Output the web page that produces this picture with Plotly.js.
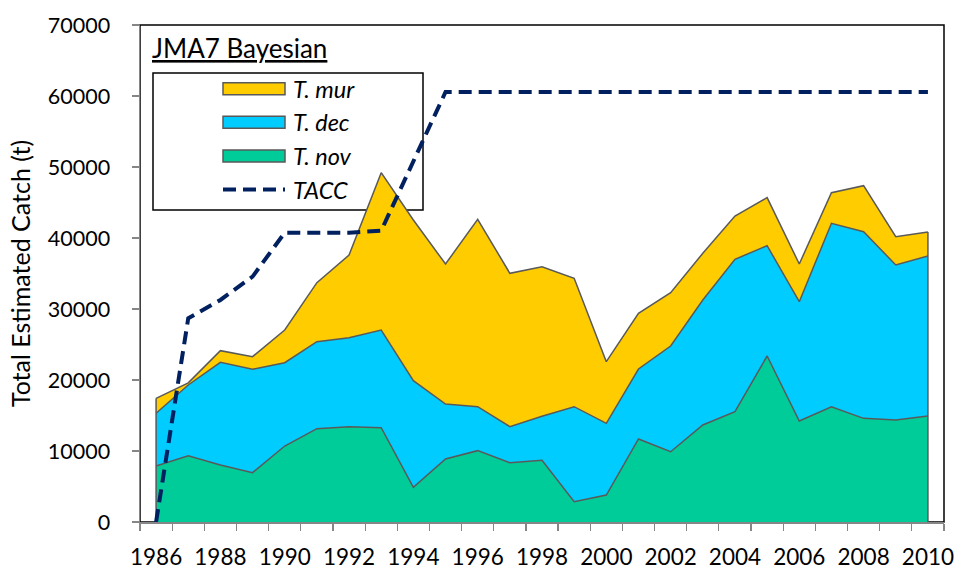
<!DOCTYPE html>
<html>
<head>
<meta charset="utf-8">
<script src="https://cdn.plot.ly/plotly-3.0.1.min.js"></script>
<style>html,body{margin:0;padding:0;background:#fff;}#chart{width:957px;height:568px;}</style>
</head>
<body>
<div id="chart"></div>
<script>
// Data
const years = [1986,1987,1988,1989,1990,1991,1992,1993,1994,1995,1996,1997,1998,1999,2000,2001,2002,2003,2004,2005,2006,2007,2008,2009,2010];
const tNov = [7890,9340,8030,6950,10700,13140,13430,13290,4880,8870,10050,8350,8700,2860,3800,11690,9900,13660,15540,23380,14230,16240,14600,14370,14930];
const tDec = [7420,9960,14460,14550,11740,12260,12530,13750,15020,7750,6190,5080,6200,13380,10100,9860,14890,17610,21460,15540,16800,25830,26290,21830,22540];
const tMur = [2110,300,1640,1790,4600,8310,11650,22160,22640,19720,26390,21600,21060,18080,8680,7840,7510,6580,6100,6760,5310,4310,6480,3990,3380];
const tacc = [0,28690,31270,34560,40750,40750,40750,41030,50900,60560,60560,60560,60560,60560,60560,60560,60560,60560,60560,60560,60560,60560,60560,60560,60560];
const tickYears = [1986,1988,1990,1992,1994,1996,1998,2000,2002,2004,2006,2008,2010];
const yTicks = [0,10000,20000,30000,40000,50000,60000,70000];

const FONT = 'Lato, "Liberation Sans", sans-serif';
const EDGE = '#595959';
const edge = {color:EDGE, width:1.5};

const n = years.length;
const totalFirst = tNov[0]+tDec[0]+tMur[0];
const totalLast = tNov[n-1]+tDec[n-1]+tMur[n-1];

const traces = [
  {x:years, y:tNov, name:'<i>T. nov</i>', type:'scatter', mode:'lines', stackgroup:'one',
   fillcolor:'#00CC99', line:edge, legendrank:3, hoverinfo:'skip'},
  {x:years, y:tDec, name:'<i>T. dec</i>', type:'scatter', mode:'lines', stackgroup:'one',
   fillcolor:'#00CCFF', line:edge, legendrank:2, hoverinfo:'skip'},
  {x:years, y:tMur, name:'<i>T. mur</i>', type:'scatter', mode:'lines', stackgroup:'one',
   fillcolor:'#FFCC00', line:edge, legendrank:1, hoverinfo:'skip'},
  {x:[years[0],years[0],null,years[n-1],years[n-1]], y:[0,totalFirst,null,0,totalLast],
   type:'scatter', mode:'lines', line:edge, showlegend:false, hoverinfo:'skip'},
  {x:years, y:tacc, name:'<i>TACC</i>', type:'scatter', mode:'lines',
   line:{color:'#002060', width:4, dash:'13px,7px'}, legendrank:4, hoverinfo:'skip'}
];

const L = 140, R = 944, T = 25, B = 522;
const px = v => (v-L)/(R-L);
const py = v => (B-v)/(B-T);

const layout = {
  width:957, height:568,
  margin:{l:L, r:957-R, t:T, b:568-B, pad:0},
  paper_bgcolor:'#fff', plot_bgcolor:'#fff',
  font:{family:FONT, size:22, color:'#000'},
  showlegend:true,
  legend:{x:px(218), y:py(67), xanchor:'left', yanchor:'top', bgcolor:'rgba(0,0,0,0)',
          borderwidth:0, font:{family:FONT, size:23.5, color:'#000'}, traceorder:'normal',
          tracegroupgap:0, itemwidth:65},
  xaxis:{range:[1985.5,2010.5], tickmode:'array', tickvals:tickYears, ticktext:tickYears.map(String),
         ticks:'', showgrid:false, zeroline:false, showline:true, linecolor:'#868686', linewidth:1.5,
         ticklabelstandoff:14, tickfont:{family:FONT, size:22.5, color:'#000'},
         minor:{ticks:'outside', tick0:1985.5, dtick:1, ticklen:7, tickcolor:'#868686', tickwidth:1.2, showgrid:false}},
  yaxis:{range:[0,70000], tickmode:'array', tickvals:yTicks, ticktext:yTicks.map(String),
         ticks:'outside', ticklen:7, tickcolor:'#868686', tickwidth:1.2,
         showgrid:false, zeroline:false, showline:true, linecolor:'#868686', linewidth:1.5,
         ticklabelstandoff:17, tickfont:{family:FONT, size:21.5, color:'#000'},
         title:{text:'Total Estimated Catch (t)', font:{family:FONT, size:25, color:'#000'}, standoff:10}},
  shapes:[
    {type:'rect', xref:'paper', yref:'paper', x0:0, x1:1, y0:0, y1:1, layer:'below',
     line:{color:'#000', width:1.5}, fillcolor:'rgba(0,0,0,0)'},
    {type:'rect', xref:'paper', yref:'paper', x0:px(153), x1:px(423), y0:py(210), y1:py(73), layer:'below',
     line:{color:'#000', width:1.5}, fillcolor:'#fff'}
  ],
  annotations:[
    {text:'<u>JMA7 Bayesian</u>', xref:'paper', yref:'paper', x:px(150), y:py(48), xanchor:'left', yanchor:'middle',
     showarrow:false, font:{family:FONT, size:26, color:'#000'}}
  ]
};

Plotly.newPlot('chart', traces, layout, {displayModeBar:false, staticPlot:true}).then(gd => {
  // Widen legend swatches to look like the original (wide boxed swatches)
  const SW = 62, X0 = 5;
  gd.querySelectorAll('.legend .scrollbox').forEach(s => s.removeAttribute('clip-path'));
  gd.querySelectorAll('.legend .traces').forEach(g => {
    const fill = g.querySelector('path.js-fill');
    const line = g.querySelector('path.js-line');
    if (fill && fill.getAttribute('d')) {
      fill.setAttribute('d', `M${X0},-6h${SW}v12h-${SW}z`);
      fill.style.stroke = EDGE;
      fill.style.strokeWidth = '1.5px';
      if (line) line.style.display = 'none';
    } else if (line) {
      line.setAttribute('d', `M${X0},0h${SW}`);
    }
  });
});
</script>
</body>
</html>
